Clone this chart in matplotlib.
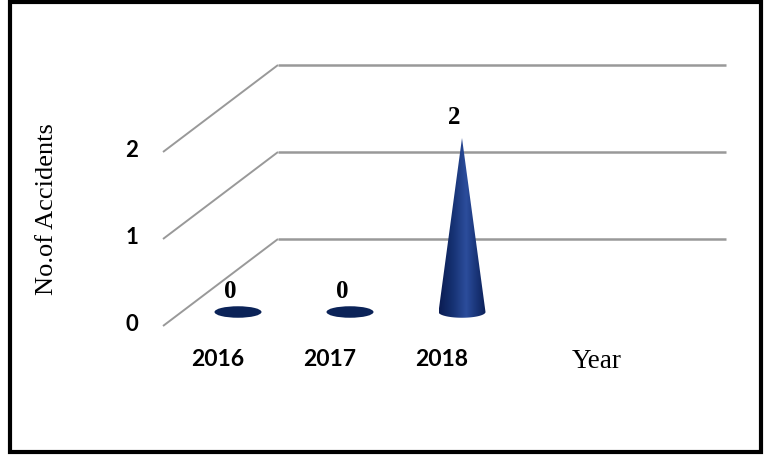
import numpy as np
import matplotlib
matplotlib.use("Agg")
import matplotlib.pyplot as plt
from matplotlib.patches import Polygon, Ellipse, Rectangle
from matplotlib.colors import LinearSegmentedColormap

# ---- data ----
years = ["2016", "2017", "2018"]
accidents = [0, 0, 2]
y_ticks = [0, 1, 2]
y_label = "No.of Accidents"
x_label = "Year"

W, H = 766, 457
fig = plt.figure(figsize=(W / 100, H / 100), dpi=100)
ax = fig.add_axes([0, 0, 1, 1])

# pixel geometry -> data units
PX_CAT = 112.0   # px per category
X0 = 238.0       # px of first category
PX_VAL = 87.0    # px per value unit
Y0 = 312.0       # px of value 0 (cone base)
ax.set_xlim(-X0 / PX_CAT, (W - X0) / PX_CAT)
ax.set_ylim((Y0 - H) / PX_VAL, Y0 / PX_VAL)
ax.axis("off")

def px_x(p):
    return (p - X0) / PX_CAT

# 3D-like gridlines (floor edge + back wall)
front_x = px_x(163)
back_x = px_x(278)
right_x = px_x(726)
front_off = -14 / PX_VAL
back_off = 1 + front_off
grid_col = "#999999"
for k in [0, 1, 2]:
    ax.plot([front_x, back_x], [k + front_off, k + back_off], color=grid_col, lw=1.4,
            solid_capstyle="butt", zorder=1)
    ax.plot([back_x, right_x], [k + back_off, k + back_off], color=grid_col, lw=1.8,
            solid_capstyle="butt", zorder=1)

# y tick labels
for k in y_ticks:
    ax.text(px_x(132), k + front_off + 0.02, str(k), ha="center", va="center",
            fontsize=16, fontweight="bold", family="Lato", color="black")

# category labels
for i, yr in enumerate(years):
    ax.text(i - 20 / PX_CAT, (Y0 - 360) / PX_VAL, yr, ha="center", va="center",
            fontsize=16.5, fontweight="bold", family="Lato", color="black")

ax.text(px_x(597), (Y0 - 362) / PX_VAL, x_label, ha="center", va="center",
        fontsize=19.5, family="Liberation Serif", color="black")
fig.text(47 / W, 1 - 209 / H, y_label, rotation=90, ha="center", va="center",
         fontsize=19, family="Liberation Serif", color="black")

# cones
half_w = 23.5 / PX_CAT
ell_h = 11.5 / PX_VAL
cmap = LinearSegmentedColormap.from_list(
    "cone", [(0.0, "#0b1c52"), (0.3, "#163273"), (0.58, "#2c4d9c"),
             (0.75, "#1d3a80"), (1.0, "#0c2058")])
grad = np.linspace(0, 1, 256).reshape(1, -1)
for i, v in enumerate(accidents):
    if v == 0:
        ax.add_patch(Ellipse((i, 0), 2 * half_w, ell_h, facecolor="#0b2358",
                             edgecolor="none", zorder=3))
        ax.text(i - 8 / PX_CAT, (Y0 - 292) / PX_VAL, str(v), ha="center", va="center",
                fontsize=18, fontweight="bold", family="Liberation Serif")
    else:
        t = np.linspace(np.pi, 2 * np.pi, 60)
        arc = np.column_stack([i + half_w * np.cos(t), (ell_h / 2) * np.sin(t)])
        verts = np.vstack([[[i, v]], arc, [[i, v]]])
        poly = Polygon(verts, closed=True, facecolor="none", edgecolor="none")
        ax.add_patch(poly)
        im = ax.imshow(grad, cmap=cmap, aspect="auto", origin="lower",
                       extent=[i - half_w, i + half_w, -ell_h, v], zorder=3)
        im.set_clip_path(poly)
        ax.text(i - 8 / PX_CAT, (Y0 - 118) / PX_VAL, str(v), ha="center",
                va="center", fontsize=18, fontweight="bold", family="Liberation Serif")

ax.set_xlim(-X0 / PX_CAT, (W - X0) / PX_CAT)
ax.set_ylim((Y0 - H) / PX_VAL, Y0 / PX_VAL)

# outer border
fig.patches.append(Rectangle((10 / W, 1 - 452 / H), (761 - 10) / W, (452 - 2) / H,
                             transform=fig.transFigure, fill=False,
                             edgecolor="black", lw=3.0, zorder=10))

fig.savefig("out.png", dpi=100, facecolor="white")
